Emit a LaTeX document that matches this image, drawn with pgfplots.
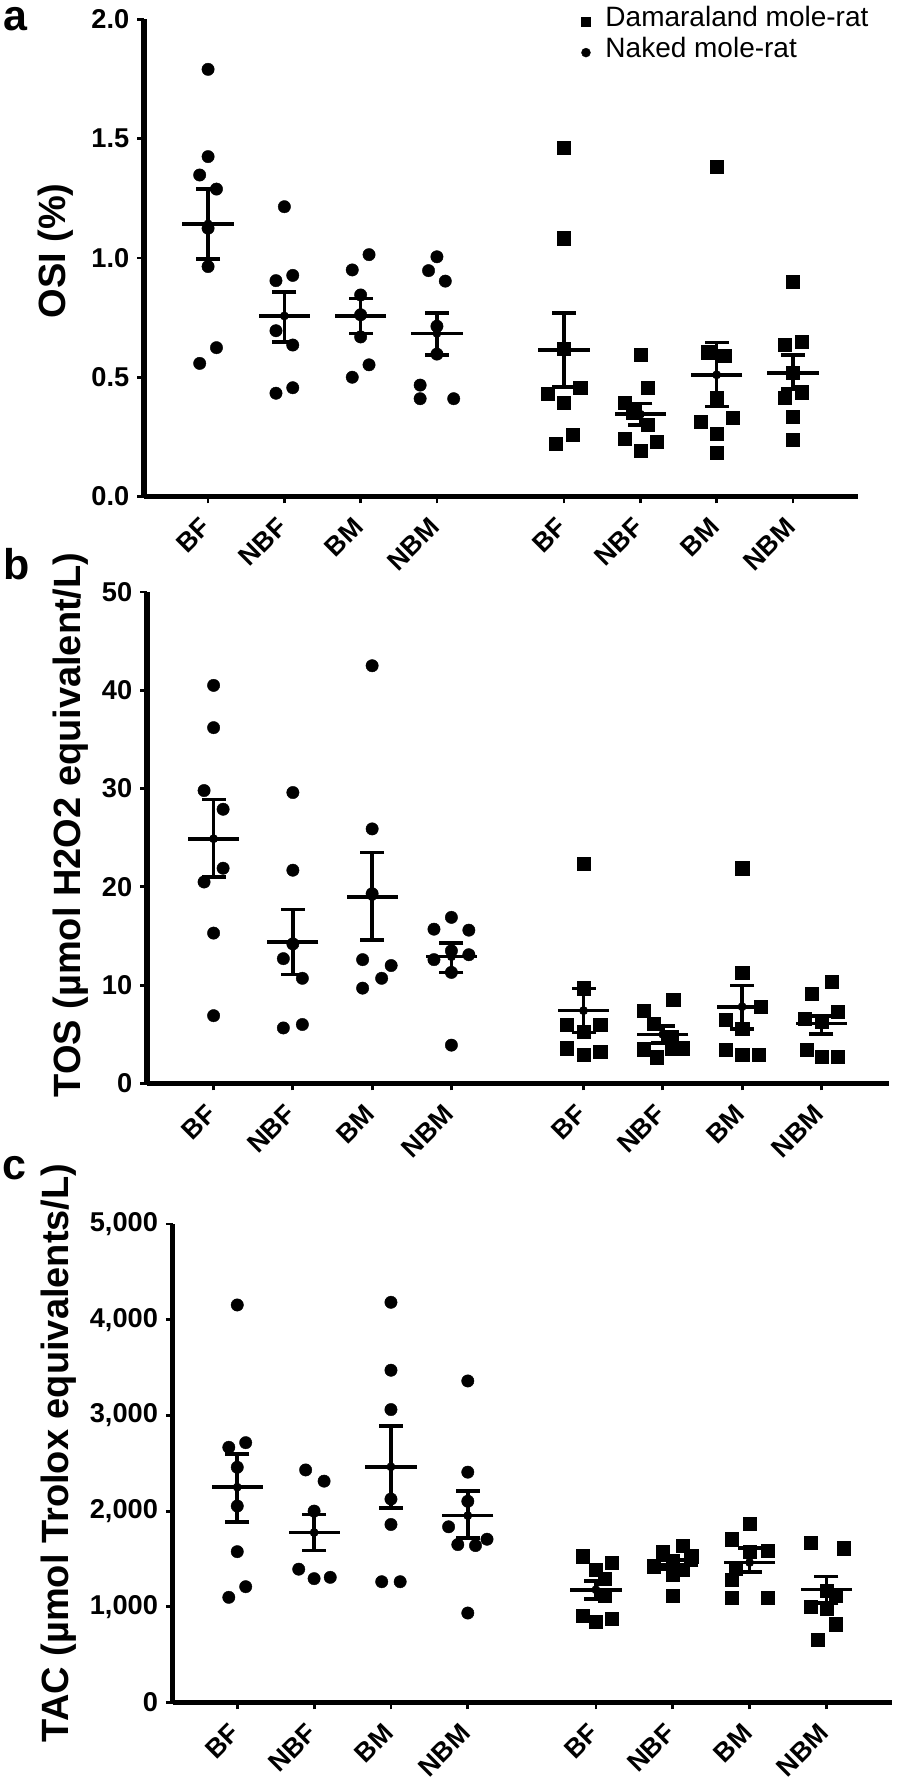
\documentclass[border=0pt]{standalone}
\usepackage{fontspec}
\setmainfont{Liberation Sans}[BoldFont={Liberation Sans Bold}]
\usepackage{pgfplots}
\usepackage{pgfplotstable}
\pgfplotsset{compat=1.18}

\newcommand\tfont{\fontsize{13.6}{16}\selectfont\bfseries}
\newcommand\xfont{\fontsize{13.3}{16}\selectfont\bfseries}
\newcommand\lfont{\fontsize{19}{22}\selectfont\bfseries}
\newcommand\pfont{\fontsize{21.5}{24}\selectfont\bfseries}

% ---------- Panel a: OSI ----------
\pgfplotstableread{
x y
1 1.791
1 1.425
0.89 1.348
1.11 1.289
1 1.125
1 0.964
1.11 0.624
0.89 0.558
2 1.215
2.11 0.927
1.89 0.905
1.89 0.695
2.11 0.635
2.11 0.456
1.89 0.433
3.11 1.014
2.89 0.950
3 0.845
3 0.762
3 0.669
3.11 0.552
2.89 0.500
4 1.005
3.89 0.947
4.11 0.903
4 0.714
4 0.597
3.78 0.467
3.78 0.410
4.22 0.410
}\aNaked
\pgfplotstableread{
x y
5.667 1.461
5.667 1.083
5.667 0.620
5.877 0.455
5.447 0.432
5.667 0.392
5.777 0.258
5.557 0.222
6.667 0.593
6.767 0.455
6.457 0.392
6.567 0.353
6.767 0.300
6.457 0.243
6.877 0.230
6.667 0.192
7.667 1.382
7.557 0.605
7.777 0.590
7.667 0.414
7.877 0.330
7.457 0.315
7.667 0.264
7.667 0.185
8.667 0.902
8.777 0.650
8.557 0.635
8.667 0.518
8.777 0.437
8.557 0.413
8.667 0.335
8.667 0.237
}\aDama
\pgfplotstableread{
x m lo hi
1 1.143 0.997 1.289
2 0.757 0.647 0.858
3 0.758 0.683 0.830
4 0.684 0.594 0.770
5.667 0.615 0.459 0.770
6.667 0.345 0.300 0.390
7.667 0.510 0.377 0.645
8.667 0.518 0.450 0.593
}\aSum

% ---------- Panel b: TOS ----------
\pgfplotstableread{
x y
1 40.5
1 36.2
0.88 29.8
1.12 27.9
1.12 21.9
0.88 20.5
1 15.3
1 6.9
2 29.6
2 21.7
2 14.2
1.88 12.7
2.12 10.7
2.12 6.0
1.88 5.65
3 42.5
3 25.9
3 19.3
2.88 12.6
3.24 12.0
3.12 10.7
2.88 9.7
4 16.9
3.78 15.7
4.22 15.6
4 13.5
3.78 12.6
4.22 13.1
4 11.3
4 3.9
}\bNaked
\pgfplotstableread{
x y
5.667 22.4
5.667 9.7
5.457 5.95
5.877 5.95
5.667 5.3
5.457 3.6
5.667 2.9
5.877 3.2
6.797 8.56
6.427 7.41
6.547 6.12
6.777 4.76
6.427 3.48
6.587 2.67
6.777 3.5
6.917 3.6
7.667 21.9
7.667 11.3
7.897 7.8
7.457 6.46
7.667 5.6
7.457 3.4
7.667 2.9
7.877 2.9
8.793 10.36
8.541 9.17
8.877 7.3
8.457 6.63
8.667 6.29
8.477 3.4
8.667 2.73
8.877 2.73
}\bDama
\pgfplotstableread{
x m lo hi
1 24.9 21.0 28.9
2 14.4 11.1 17.7
3 19.0 14.6 23.5
4 12.9 11.3 14.3
5.667 7.41 5.2 9.68
6.667 5.0 4.15 5.85
7.667 7.81 5.54 9.95
8.667 6.12 5.04 6.87
}\bSum

% ---------- Panel c: TAC ----------
\pgfplotstableread{
x y
1 4154
1.11 2715
0.89 2667
1 2458
1 2053
1 1576
1.11 1210
0.89 1099
1.89 2430
2.13 2313
2 2000
1.8 1393
2.21 1308
2 1294
3 4182
3 3472
3 3061
3 2126
3 1860
2.88 1262
3.12 1262
4 3360
4 2407
4 2103
3.75 1836
4.25 1706
3.87 1650
4.1 1640
4 935
}\cNaked
\pgfplotstableread{
x y
5.497 1528
5.877 1463
5.667 1388
5.777 1294
5.777 1121
5.497 911
5.877 879
5.667 841
6.797 1636
6.537 1575
6.907 1528
6.667 1481
6.417 1425
6.797 1388
6.667 1332
6.667 1112
7.667 1869
7.437 1706
7.907 1589
7.667 1575
7.487 1402
7.437 1285
7.437 1098
7.907 1098
8.467 1668
8.887 1612
8.667 1168
8.787 1121
8.467 1005
8.667 981
8.787 818
8.557 654
}\cDama
\pgfplotstableread{
x m lo hi
1 2250 1889 2597
2 1776 1589 1963
3 2463 2033 2888
4 1953 1720 2210
5.667 1178 1084 1271
6.667 1439 1393 1486
7.667 1463 1364 1612
8.667 1182 1042 1318
}\cSum

\pgfplotsset{
  molestyle/.style={
    scale only axis,
    anchor=south west,
    axis lines=left,
    axis line style={-, line width=2.6pt},
    x axis line style={-, line width=2.6pt},
    y axis line style={-, line width=2.6pt},
    every outer x axis line/.append style={-, line width=2.6pt},
    every outer y axis line/.append style={-, line width=2.6pt},
    xmin=0.16, xmax=9.52,
    xtick={1,2,3,4,5.667,6.667,7.667,8.667},
    xticklabels={BF,NBF,BM,NBM,BF,NBF,BM,NBM},
    tick align=outside,
    major tick length=3.4pt,
    tick style={line width=1.4pt, black},
    xticklabel style={font=\xfont, inner sep=0pt, yshift=-9.6pt, xshift=-1pt, rotate=45, anchor=east},
    yticklabel style={font=\tfont, inner sep=0pt, xshift=-3.8pt, anchor=east},
    clip=false,
  },
  naked/.style={black, only marks, mark=*, mark size=3.1pt, mark options={fill=black, draw=black, line width=0.2pt}},
  dama/.style={black, only marks, mark=square*, mark size=3.3pt, mark options={fill=black, draw=black, line width=0.2pt}},
  meanbar/.style={black, only marks, mark=-, mark size=12.8pt, mark options={line width=1.8pt}, forget plot},
  capbar/.style={black, only marks, mark=-, mark size=6pt, mark options={line width=1.8pt}, forget plot},
  sembar/.style={black, only marks, mark=none, forget plot, error bars/.cd, y dir=both, y explicit, error mark=none, error bar style={line width=1.8pt, black}},
}

\newcommand\summary[1]{%
  \addplot[meanbar] table[x=x, y=m] {#1};
  \addplot[capbar] table[x=x, y=lo] {#1};
  \addplot[capbar] table[x=x, y=hi] {#1};
  \addplot[sembar] table[x=x, y=m, y error plus expr=\thisrow{hi}-\thisrow{m}, y error minus expr=\thisrow{m}-\thisrow{lo}] {#1};
}

\begin{document}
\begin{tikzpicture}
\path[use as bounding box] (0,0) rectangle (448pt,889.5pt);

% Panel a
\begin{axis}[molestyle,
  at={(72pt,641.25pt)}, width=357pt, height=238.5pt,
  ymin=0, ymax=2,
  ytick={0,0.5,1,1.5,2}, yticklabels={0.0,0.5,1.0,1.5,2.0},
  legend cell align=left,
  legend style={at={(0.6127,1.0268)}, anchor=north west, draw=none, fill=none,
    inner sep=0pt, outer sep=0pt, row sep=0pt, column sep=7.5pt,
    font=\fontsize{14}{16}\selectfont,
    nodes={inner sep=0pt, text height=10pt, text depth=5.3pt}},
  legend image code/.code={\draw[#1, mark size=2.25pt] plot coordinates {(0pt,0pt)};},
]
\addplot[dama] table {\aDama};
\addlegendentry{Damaraland mole-rat}
\addplot[naked] table {\aNaked};
\addlegendentry{Naked mole-rat}
\summary{\aSum}
\end{axis}

% Panel b
\begin{axis}[molestyle,
  at={(73.5pt,347.75pt)}, width=371pt, height=245.75pt,
  ymin=0, ymax=50,
  ytick={0,10,20,30,40,50}, yticklabels={0,10,20,30,40,50},
]
\addplot[dama] table {\bDama};
\addplot[naked] table {\bNaked};
\summary{\bSum}
\end{axis}

% Panel c
\begin{axis}[molestyle,
  at={(86.35pt,38.25pt)}, width=359.65pt, height=239.25pt,
  ymin=0, ymax=5000,
  ytick={0,1000,2000,3000,4000,5000}, yticklabels={0,{1,000},{2,000},{3,000},{4,000},{5,000}},
]
\addplot[dama] table {\cDama};
\addplot[naked] table {\cNaked};
\summary{\cSum}
\end{axis}

% axis titles
\node[rotate=90, anchor=base, font=\lfont] at (32.5pt,764pt) {OSI (\%)};
\node[rotate=90, anchor=base, font=\lfont] at (40pt,477pt) {TOS (µmol H2O2 equivalent/L)};
\node[rotate=90, anchor=base, font=\lfont] at (34.15pt,163pt) {TAC (µmol Trolox equivalents/L)};

% panel letters
\node[anchor=base west, inner sep=0pt, font=\pfont] at (1.5pt,874pt) {a};
\node[anchor=base west, inner sep=0pt, font=\pfont] at (1.5pt,599.5pt) {b};
\node[anchor=base west, inner sep=0pt, font=\pfont] at (1pt,299.5pt) {c};
\end{tikzpicture}
\end{document}
